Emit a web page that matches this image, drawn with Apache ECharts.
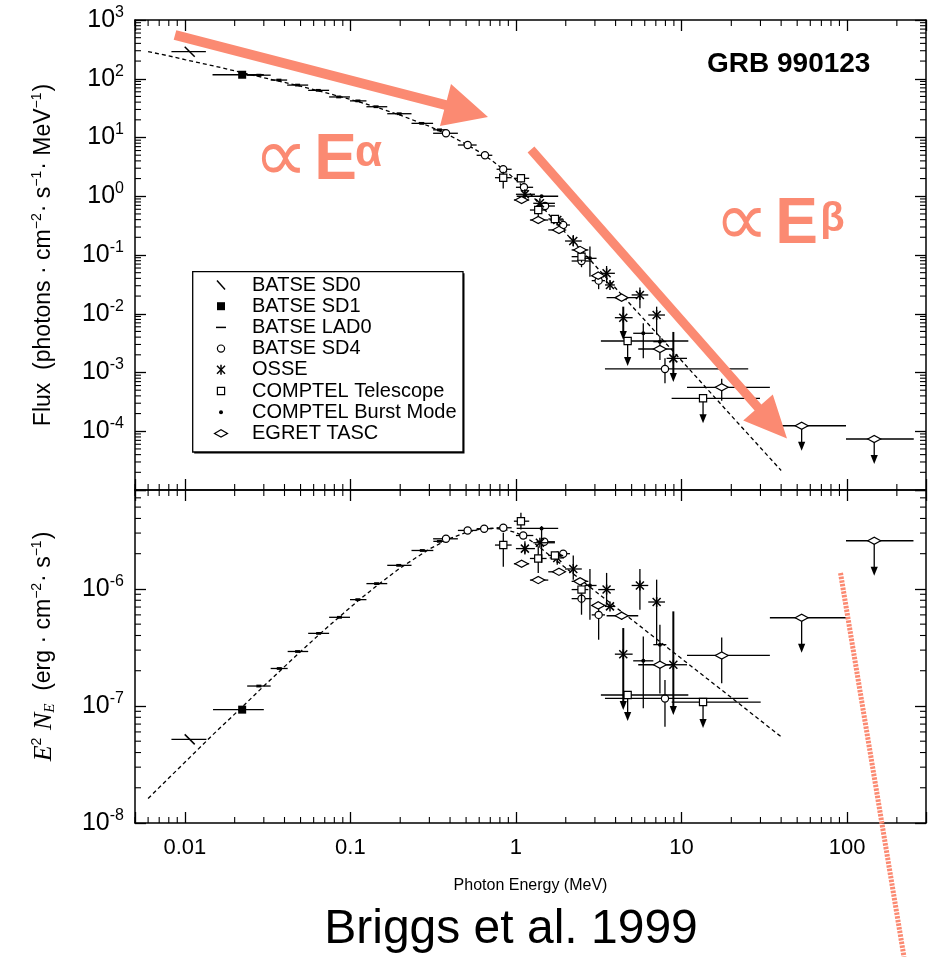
<!DOCTYPE html>
<html>
<head>
<meta charset="utf-8">
<title>GRB 990123 spectrum</title>
<script src="https://cdn.jsdelivr.net/npm/echarts@6/dist/echarts.min.js"></script>
<style>
  html, body { margin: 0; padding: 0; background: #fff; }
  #chart { width: 937px; height: 957px; }
</style>
</head>
<body>
<div id="chart"></div>
<script>
// ---------------------------------------------------------------
// Data. Each row: [E, E low, E high, value, value low, value high, flag]
// flag 1 = lower error bar ends in an arrow, flag 2 = upper limit
// Energies in MeV; top panel flux in photons/cm2/s/MeV,
// bottom panel E^2 N_E in erg/cm2/s.
// ---------------------------------------------------------------
const instruments = ['BATSE SD0', 'BATSE SD1', 'BATSE LAD0', 'BATSE SD4', 'OSSE',
  'COMPTEL Telescope', 'COMPTEL Burst Mode', 'EGRET TASC'];

const energyTicks = [0.01, 0.1, 1, 10, 100];
const fluxTicks = [1e-4, 1e-3, 1e-2, 1e-1, 1, 10, 100, 1000];
const sedTicks = [1e-8, 1e-7, 1e-6];

// ---- top panel: photon flux ----
const fluxSD0 = [[0.0107, 0.0083, 0.0134, 289]];
const fluxSD1 = [[0.0222, 0.0147, 0.0300, 117]];
const fluxLAD0 = [
  [0.028, 0.0237, 0.033, 115], [0.037, 0.033, 0.0415, 95], [0.048, 0.0415, 0.0556, 78],
  [0.064, 0.0556, 0.0744, 63.5], [0.085, 0.0744, 0.0994, 49], [0.111, 0.0994, 0.125, 42],
  [0.143, 0.125, 0.167, 33.4], [0.197, 0.167, 0.234, 25.4], [0.27, 0.234, 0.316, 17.4],
  [0.345, 0.316, 0.375, 13.5]
];
const fluxSD4 = [
  [0.378, 0.316, 0.446, 11.8], [0.511, 0.446, 0.579, 7.45], [0.65, 0.579, 0.72, 4.98],
  [0.838, 0.764, 0.942, 2.88], [1.118, 1.0, 1.27, 1.42], [1.50, 1.33, 1.72, 0.682],
  [1.93, 1.76, 2.12, 0.324], [2.49, 2.17, 2.87, 0.079, 0.062, 0.094],
  [3.16, 2.87, 3.45, 0.0366, 0.0262, 0.0488], [7.95, 3.45, 25.3, 0.00115, 0.000654, 0.00174]
];
const fluxOSSE = [
  [1.133, 1.0, 1.303, 1.08, 0.95, 1.25], [1.396, 1.273, 1.72, 0.758],
  [1.777, 1.6, 1.95, 0.394, 0.33, 0.46], [2.22, 1.98, 2.5, 0.173, 0.139, 0.219],
  [3.53, 3.14, 3.96, 0.0488, 0.033, 0.065], [3.70, 3.45, 3.96, 0.0309],
  [4.45, 3.96, 5.07, 0.00857, 0.00357, 0.0132, 1], [5.61, 5.0, 6.3, 0.0209, 0.0124, 0.028],
  [7.08, 6.3, 7.95, 0.00952, 0.0044, 0.0132], [8.93, 8.13, 10.8, 0.00174, 0.00069, 0.0049, 1]
];
const fluxCOMPTEL = [
  [0.838, 0.747, 0.942, 2.07, 1.36, 2.62], [1.072, 0.972, 1.203, 2.02, 1.72, 2.39],
  [1.364, 1.215, 1.532, 0.583, 0.45, 0.73], [1.72, 1.57, 1.93, 0.41],
  [2.49, 2.17, 2.74, 0.0937, 0.075, 0.12],
  [4.73, 3.26, 11.0, 0.00344, null, null, 2], [13.5, 8.72, 29.8, 0.000364, null, null, 2]
];
const fluxBurst = [
  [1.429, 1.01, 1.80, 1.0], [2.80, 2.6, 3.07, 0.0878, 0.0428, 0.139],
  [5.88, 5.11, 6.76, 0.00465, 0.00174, 0.00687], [7.41, 6.76, 8.1, 0.00335]
];
const fluxEGRET = [
  [1.082, 0.972, 1.203, 0.863], [1.364, 1.215, 1.568, 0.394], [1.82, 1.568, 1.98, 0.267],
  [2.44, 2.17, 2.74, 0.122], [3.14, 2.87, 3.53, 0.0445], [4.35, 3.53, 5.48, 0.0188],
  [7.41, 5.48, 8.93, 0.00251, 0.00163, 0.0042], [17.5, 10.8, 34.2, 0.00056, 0.00033, 0.00078],
  [53.2, 34.2, 98.6, 0.000124, null, null, 2], [146, 98.6, 253, 0.0000738, null, null, 2]
];
// Band-function fit drawn dashed
const modelFlux = [
  [0.006, 290], [0.008, 245], [0.01, 212], [0.015, 165], [0.0222, 127], [0.03, 104],
  [0.048, 77], [0.07, 58.5], [0.111, 41], [0.15, 31.5], [0.2, 24], [0.3, 15.5],
  [0.4, 10.7], [0.5, 7.7], [0.6, 5.7], [0.72, 4.0], [0.85, 2.8], [1.0, 1.9], [1.15, 1.3],
  [1.29, 0.93], [2, 0.236], [3, 0.067], [4.67, 0.0169], [10, 0.0016], [20, 0.000184],
  [40, 0.0000215]
];

// ---- bottom panel: E^2 N_E ----
const sedSD0 = [[0.0107, 0.0083, 0.0135, 5.18e-8]];
const sedSD1 = [[0.0222, 0.0148, 0.030, 9.3e-8]];
const sedLAD0 = [
  [0.028, 0.0238, 0.033, 1.48e-7], [0.0372, 0.033, 0.0418, 2.09e-7], [0.048, 0.0418, 0.0556, 2.92e-7],
  [0.0643, 0.0556, 0.0744, 4.17e-7], [0.0859, 0.0744, 0.0995, 5.72e-7], [0.111, 0.0995, 0.125, 8.1e-7],
  [0.144, 0.125, 0.167, 1.11e-6], [0.196, 0.167, 0.234, 1.59e-6], [0.272, 0.234, 0.317, 2.13e-6],
  [0.345, 0.317, 0.375, 2.55e-6]
];
const sedSD4 = [
  [0.378, 0.316, 0.446, 2.68e-6], [0.511, 0.446, 0.579, 3.16e-6], [0.643, 0.579, 0.72, 3.27e-6],
  [0.839, 0.764, 0.942, 3.33e-6], [1.107, 1.0, 1.273, 2.86e-6], [1.483, 1.333, 1.72, 2.53e-6],
  [1.93, 1.76, 2.12, 2.0e-6], [2.49, 2.17, 2.87, 8.26e-7, 6.02e-7, 9.87e-7],
  [3.16, 2.87, 3.45, 6.0e-7, 3.68e-7, 7.09e-7], [7.95, 3.45, 25.3, 1.16e-7, 6.65e-8, 1.67e-7]
];
const sedOSSE = [
  [1.133, 1.0, 1.303, 2.21e-6, 1.97e-6, 2.56e-6], [1.396, 1.273, 1.72, 2.48e-6],
  [1.777, 1.6, 1.95, 1.84e-6, 1.61e-6, 2.1e-6], [2.22, 1.98, 2.5, 1.48e-6, 1.2e-6, 1.93e-6],
  [3.53, 3.14, 3.96, 9.87e-7, 7.33e-7, 1.37e-6], [3.70, 3.45, 3.96, 7.09e-7],
  [4.45, 3.96, 5.07, 2.77e-7, 9.25e-8, 4.63e-7, 1], [5.61, 5.0, 6.3, 1.07e-6, 6.64e-7, 1.48e-6],
  [7.08, 6.3, 7.95, 7.73e-7, 3.34e-7, 1.2e-6], [8.93, 8.13, 10.8, 2.25e-7, 8.38e-8, 6.43e-7, 1]
];
const sedCOMPTEL = [
  [0.839, 0.747, 0.942, 2.37e-6, 1.55e-6, 3.02e-6], [1.072, 0.972, 1.203, 3.79e-6, 3.22e-6, 4.48e-6],
  [1.364, 1.215, 1.532, 1.82e-6, 1.37e-6, 2.32e-6], [1.72, 1.57, 1.93, 1.93e-6],
  [2.49, 2.17, 2.74, 9.87e-7, 7.5e-7, 1.24e-6],
  [4.73, 3.26, 11.0, 1.24e-7, null, null, 2], [13.5, 8.72, 30.1, 1.08e-7, null, null, 2]
];
const sedBurst = [
  [1.429, 1.01, 1.80, 3.29e-6, 1.67e-6, 3.44e-6], [2.80, 2.6, 3.07, 1.07e-6, 5.45e-7, 1.48e-6],
  [5.88, 5.11, 6.76, 2.43e-7, 9.56e-8, 3.93e-7], [7.41, 6.76, 8.1, 3.34e-7]
];
const sedEGRET = [
  [1.082, 0.972, 1.203, 1.64e-6], [1.364, 1.215, 1.568, 1.19e-6], [1.82, 1.568, 1.98, 1.40e-6],
  [2.44, 2.17, 2.74, 1.16e-6], [3.14, 2.87, 3.53, 7.23e-7], [4.35, 3.53, 5.48, 5.9e-7, 5.45e-7, 6.43e-7],
  [7.41, 5.48, 8.93, 2.25e-7, 1.28e-7, 4.95e-7], [17.5, 10.8, 34.2, 2.70e-7, 1.56e-7, 3.85e-7],
  [53.2, 34.2, 99.6, 5.67e-7, null, null, 2], [146, 98.6, 252, 2.58e-6, null, null, 2]
];
const modelSED = [
  [0.006, 1.62e-8], [0.008, 2.42e-8], [0.01, 3.3e-8], [0.015, 5.8e-8], [0.0222, 9.8e-8],
  [0.03, 1.48e-7], [0.048, 2.76e-7], [0.07, 4.5e-7], [0.111, 7.9e-7], [0.15, 1.11e-6],
  [0.2, 1.51e-6], [0.3, 2.19e-6], [0.4, 2.7e-6], [0.5, 3.04e-6], [0.6, 3.23e-6], [0.72, 3.3e-6],
  [0.85, 3.23e-6], [1.0, 3.03e-6], [1.15, 2.75e-6], [1.29, 2.46e-6], [2, 1.51e-6], [3, 9.6e-7],
  [4.67, 5.9e-7], [10, 2.54e-7], [20, 1.18e-7], [40, 5.45e-8]
];

// ---------------------------------------------------------------
const SANS = '"Liberation Sans", Arial, Helvetica, sans-serif';
const SERIF = '"Liberation Serif", "Times New Roman", serif';
const SALMON = '#fb8a72';
const markerKinds = ['sd0', 'sd1', 'lad', 'sd4', 'osse', 'comptel', 'burst', 'egret'];

function rows(list) {
  return list.map(r => [r[0], r[1], r[2], r[3],
    r[4] == null ? r[3] : r[4], r[5] == null ? r[3] : r[5], r[6] || 0]);
}

// plotting symbols for each instrument
function markerShapes(kind, x, y) {
  const open = { stroke: '#000', lineWidth: 1.2, fill: '#fff' };
  const ink = { stroke: '#000', lineWidth: 1.5 };
  switch (kind) {
    case 'sd0':
      return [{ type: 'line', shape: { x1: x - 5, y1: y - 5, x2: x + 5, y2: y + 5 }, style: ink }];
    case 'sd1':
      return [{ type: 'rect', shape: { x: x - 4, y: y - 4, width: 8, height: 8 }, style: { fill: '#000' } }];
    case 'lad':
      return [{ type: 'rect', shape: { x: x - 2.5, y: y - 1.4, width: 5, height: 2.8 }, style: { fill: '#000' } }];
    case 'sd4':
      return [{ type: 'circle', shape: { cx: x, cy: y, r: 3.6 }, style: open }];
    case 'osse':
      return [
        { type: 'line', shape: { x1: x, y1: y - 5, x2: x, y2: y + 5 }, style: ink },
        { type: 'line', shape: { x1: x - 4, y1: y - 4, x2: x + 4, y2: y + 4 }, style: ink },
        { type: 'line', shape: { x1: x - 4, y1: y + 4, x2: x + 4, y2: y - 4 }, style: ink }
      ];
    case 'comptel':
      return [{ type: 'rect', shape: { x: x - 3.6, y: y - 3.6, width: 7.2, height: 7.2 }, style: open }];
    case 'burst':
      return [{ type: 'circle', shape: { cx: x, cy: y, r: 2 }, style: { fill: '#000' } }];
    case 'egret':
      return [{ type: 'polygon', shape: { points: [[x - 6.5, y], [x, y - 3.6], [x + 6.5, y], [x, y + 3.6]] }, style: open }];
  }
  return [];
}

function pointRenderer(kind, ulLen) {
  return function (params, api) {
    const E = api.value(0), El = api.value(1), Eh = api.value(2);
    const V = api.value(3), Vl = api.value(4), Vh = api.value(5), flag = api.value(6);
    const c = api.coord([E, V]);
    const xl = api.coord([El, V])[0], xh = api.coord([Eh, V])[0];
    const ln = { stroke: '#000', lineWidth: 1.3 };
    const kids = [{ type: 'line', shape: { x1: xl, y1: c[1], x2: xh, y2: c[1] }, style: ln }];
    const head = tip => ({ type: 'polygon', shape: { points: [[c[0] - 3.6, tip - 9], [c[0] + 3.6, tip - 9], [c[0], tip]] }, style: { fill: '#000' } });
    if (flag === 2) {
      const tip = c[1] + ulLen;
      kids.push({ type: 'line', shape: { x1: c[0], y1: c[1], x2: c[0], y2: tip - 8 }, style: ln });
      kids.push(head(tip));
    } else {
      const lo = api.coord([E, Vl])[1], hi = api.coord([E, Vh])[1];
      if (lo - hi > 0.5) {
        kids.push({ type: 'line', shape: { x1: c[0], y1: hi, x2: c[0], y2: flag === 1 ? lo - 8 : lo },
          style: flag === 1 ? { stroke: '#000', lineWidth: 2 } : ln });
      }
      if (flag === 1) kids.push(head(lo));
    }
    kids.push(...markerShapes(kind, c[0], c[1]));
    return { type: 'group', children: kids };
  };
}

function pointSeries(name, kind, list, xIdx, yIdx, ulLen) {
  return {
    type: 'custom', name: name, coordinateSystem: 'cartesian2d',
    xAxisIndex: xIdx, yAxisIndex: yIdx, z: 5, silent: true,
    dimensions: ['E', 'Elo', 'Ehi', 'V', 'Vlo', 'Vhi', 'flag'],
    encode: { x: 0, y: 3 },
    renderItem: pointRenderer(kind, ulLen),
    data: rows(list)
  };
}

function modelSeries(list, xIdx, yIdx) {
  return {
    type: 'line', name: 'Band fit', xAxisIndex: xIdx, yAxisIndex: yIdx,
    data: list, showSymbol: false, symbol: 'none', silent: true, z: 3,
    lineStyle: { color: '#000', width: 1.3, type: [4, 3] }
  };
}

// minor log ticks on all four sides of a panel
function decadeMinors(lo, hi, keep) {
  const out = [];
  for (let k = lo; k <= hi; k++) {
    for (let m = 2; m <= 9; m++) out.push(m * Math.pow(10, k));
  }
  return out.filter(keep);
}
function minorTickSeries(dir, values, xIdx, yIdx, ref, len) {
  return {
    type: 'custom', coordinateSystem: 'cartesian2d', xAxisIndex: xIdx, yAxisIndex: yIdx,
    silent: true, z: 4,
    data: values.map(v => dir === 'x' ? [v, ref] : [ref, v]),
    renderItem: function (params, api) {
      const cs = params.coordSys;
      const p = api.coord([api.value(0), api.value(1)]);
      const st = { stroke: '#000', lineWidth: 1.1 };
      if (dir === 'x') {
        const b = cs.y + cs.height;
        return { type: 'group', children: [
          { type: 'line', shape: { x1: p[0], y1: b, x2: p[0], y2: b - len }, style: st },
          { type: 'line', shape: { x1: p[0], y1: cs.y, x2: p[0], y2: cs.y + len }, style: st }
        ] };
      }
      const r = cs.x + cs.width;
      return { type: 'group', children: [
        { type: 'line', shape: { x1: cs.x, y1: p[1], x2: cs.x + len, y2: p[1] }, style: st },
        { type: 'line', shape: { x1: r, y1: p[1], x2: r - len, y2: p[1] }, style: st }
      ] };
    }
  };
}

const isTick = (v, ticks) => ticks.some(t => Math.abs(Math.log10(v) - Math.log10(t)) < 1e-6);
const expLabel = v => '{b|10}{s|' + Math.round(Math.log10(v)) + '}';

const axisLine = { show: true, onZero: false, lineStyle: { color: '#000', width: 1.5 } };
const axisTick = { show: true, inside: true, length: 11, lineStyle: { color: '#000', width: 1.3 } };

function xAxisDef(grid, pos, withLabels) {
  const a = {
    type: 'log', logBase: 10, gridIndex: grid, position: pos, min: 0.005, max: 300,
    axisLine: axisLine, axisTick: axisTick, splitLine: { show: false },
    axisLabel: { show: false }
  };
  if (withLabels) {
    a.axisLabel = {
      show: true, interval: 0, margin: 14, color: '#000', fontFamily: SANS, fontSize: 22,
      hideOverlap: false,
      formatter: v => isTick(v, energyTicks) ? String(Number(v.toPrecision(1))) : ''
    };
    a.name = 'Photon Energy (MeV)';
    a.nameLocation = 'middle';
    a.nameGap = 55;
    a.nameTextStyle = { color: '#000', fontFamily: SANS, fontSize: 16 };
  }
  return a;
}
function yAxisDef(grid, pos, min, max, ticks) {
  const a = {
    type: 'log', logBase: 10, gridIndex: grid, position: pos, min: min, max: max,
    axisLine: axisLine, axisTick: axisTick, splitLine: { show: false },
    axisLabel: { show: false }
  };
  if (ticks) {
    a.axisLabel = {
      show: true, interval: 0, margin: 11, hideOverlap: false,
      formatter: v => isTick(v, ticks) ? expLabel(v) : '',
      rich: {
        b: { fontSize: 25, fontFamily: SANS, color: '#000', verticalAlign: 'middle' },
        s: { fontSize: 16, fontFamily: SANS, color: '#000', verticalAlign: 'middle', padding: [0, 0, 15, 0] }
      }
    };
  }
  return a;
}

const topY = yAxisDef(0, 'left', 1e-5, 1e3, fluxTicks);
topY.name = '{t|Flux  (photons · cm}{s|−2}{t|· s}{s|−1}{t|· MeV}{s|−1}{t|)}';
topY.nameLocation = 'middle';
topY.nameGap = 77;
topY.nameTextStyle = {
  rich: {
    t: { fontSize: 23, fontFamily: SANS, color: '#000', verticalAlign: 'middle' },
    s: { fontSize: 14, fontFamily: SANS, color: '#000', verticalAlign: 'middle', padding: [0, 1, 14, 0] }
  }
};
const botY = yAxisDef(1, 'left', 1e-8, 7e-6, sedTicks);
botY.name = '{i|E}{s|2}{i| N}{u|E}{t|  (erg · cm}{s|−2}{t|· s}{s|−1}{t|)}';
botY.nameLocation = 'middle';
botY.nameGap = 77;
botY.nameTextStyle = {
  padding: [0, 0, 0, 20],
  rich: {
    t: { fontSize: 23, fontFamily: SANS, color: '#000', verticalAlign: 'middle' },
    i: { fontSize: 26, fontFamily: SERIF, fontStyle: 'italic', color: '#000', verticalAlign: 'middle' },
    s: { fontSize: 14, fontFamily: SANS, color: '#000', verticalAlign: 'middle', padding: [0, 1, 14, 0] },
    u: { fontSize: 15, fontFamily: SERIF, fontStyle: 'italic', color: '#000', verticalAlign: 'middle', padding: [13, 0, 0, 0] }
  }
};

const fluxSets = [fluxSD0, fluxSD1, fluxLAD0, fluxSD4, fluxOSSE, fluxCOMPTEL, fluxBurst, fluxEGRET];
const sedSets = [sedSD0, sedSD1, sedLAD0, sedSD4, sedOSSE, sedCOMPTEL, sedBurst, sedEGRET];
const sedArrow = { 'COMPTEL Telescope': 26, 'EGRET TASC': 35 };

const series = [];
series.push(modelSeries(modelFlux, 0, 0));
series.push(modelSeries(modelSED, 2, 2));
instruments.forEach((name, i) => {
  series.push(pointSeries(name, markerKinds[i], fluxSets[i], 0, 0, 25));
  series.push(pointSeries(name, markerKinds[i], sedSets[i], 2, 2, sedArrow[name] || 26));
});
const xMinors = decadeMinors(-3, 2, v => v >= 0.005 && v < 299);
series.push(minorTickSeries('x', xMinors, 0, 0, 1, 6));
series.push(minorTickSeries('x', xMinors, 2, 2, 1e-7, 6));
series.push(minorTickSeries('y', decadeMinors(-5, 2, () => true), 0, 0, 1, 6));
series.push(minorTickSeries('y', decadeMinors(-8, -6, v => v < 6.9e-6), 2, 2, 1, 6));

// ---------------------------------------------------------------
// legend box, annotations
// ---------------------------------------------------------------
const legendKids = [
  { type: 'rect', shape: { x: 194.2, y: 273.2, width: 270.3, height: 180.3 }, style: { fill: '#000' } },
  { type: 'rect', shape: { x: 192.7, y: 271.7, width: 270.3, height: 180.3 }, style: { fill: '#fff', stroke: '#000', lineWidth: 1.3 } }
];
instruments.forEach((name, i) => {
  const cy = 285 + i * 21.2;
  if (markerKinds[i] === 'lad') {
    legendKids.push({ type: 'line', shape: { x1: 216, y1: cy, x2: 226, y2: cy }, style: { stroke: '#000', lineWidth: 1.5 } });
  } else if (markerKinds[i] === 'sd0') {
    legendKids.push({ type: 'line', shape: { x1: 217, y1: cy - 4.5, x2: 225, y2: cy + 4.5 }, style: { stroke: '#000', lineWidth: 1.5 } });
  } else {
    legendKids.push(...markerShapes(markerKinds[i], 221, cy));
  }
  legendKids.push({ type: 'text', x: 252, y: cy, style: { text: name, fill: '#000', fontFamily: SANS, fontSize: 20, textAlign: 'left', textVerticalAlign: 'middle' } });
});

function arrowPolygon(pts) {
  return { type: 'polygon', z: 50, silent: true, shape: { points: pts }, style: { fill: SALMON } };
}
const PROP_FONT = '"DejaVu Sans", sans-serif';

const graphic = [
  { type: 'group', z: 20, silent: true, children: legendKids },
  { type: 'text', z: 30, x: 788.7, y: 64, style: { text: 'GRB 990123', fill: '#000', fontFamily: SANS, fontWeight: 'bold', fontSize: 28, textAlign: 'center', textVerticalAlign: 'middle' } },
  arrowPolygon([[173.7, 39.8], [444.2, 109.8], [440.0, 126.0], [488, 117], [451.0, 84.0], [446.8, 100.2], [176.3, 30.2]]),
  arrowPolygon([[527.6, 152.5], [754.6, 410.5], [743.2, 420.6], [787, 438.5], [772.8, 394.4], [761.4, 404.5], [534.4, 146.5]]),
  { type: 'text', z: 50, x: 281, y: 161, style: { text: '∝', fill: SALMON, fontFamily: PROP_FONT, fontSize: 76, textAlign: 'center', textVerticalAlign: 'middle' } },
  { type: 'text', z: 50, x: 335.5, y: 161, style: { text: 'E', fill: SALMON, fontFamily: SANS, fontWeight: 'bold', fontSize: 64, textAlign: 'center', textVerticalAlign: 'middle' } },
  { type: 'text', z: 50, x: 368.5, y: 153.5, style: { text: 'α', fill: SALMON, fontFamily: SANS, fontWeight: 'bold', fontSize: 44, textAlign: 'center', textVerticalAlign: 'middle' } },
  { type: 'text', z: 50, x: 741.7, y: 225, style: { text: '∝', fill: SALMON, fontFamily: PROP_FONT, fontSize: 76, textAlign: 'center', textVerticalAlign: 'middle' } },
  { type: 'text', z: 50, x: 796.5, y: 225.5, style: { text: 'E', fill: SALMON, fontFamily: SANS, fontWeight: 'bold', fontSize: 64, textAlign: 'center', textVerticalAlign: 'middle' } },
  { type: 'text', z: 50, x: 832.5, y: 220, style: { text: 'β', fill: SALMON, fontFamily: SANS, fontWeight: 'bold', fontSize: 40, textAlign: 'center', textVerticalAlign: 'middle' } },
  { type: 'polyline', z: 50, silent: true, shape: { points: [[840.5, 573], [904, 957]] }, style: { stroke: SALMON, lineWidth: 5, lineDash: [2.5, 1.2], fill: null } },
  { type: 'text', z: 30, x: 511, y: 930, style: { text: 'Briggs et al. 1999', fill: '#000', fontFamily: SANS, fontSize: 48, textAlign: 'center', textVerticalAlign: 'middle' } }
];

const option = {
  animation: false,
  backgroundColor: '#fff',
  grid: [
    { left: 135, top: 20, width: 791, height: 470 },
    { left: 135, top: 490, width: 791, height: 333 }
  ],
  xAxis: [
    xAxisDef(0, 'bottom', false),
    xAxisDef(0, 'top', false),
    xAxisDef(1, 'bottom', true),
    xAxisDef(1, 'top', false)
  ],
  yAxis: [
    topY,
    yAxisDef(0, 'right', 1e-5, 1e3, null),
    botY,
    yAxisDef(1, 'right', 1e-8, 7e-6, null)
  ],
  series: series,
  graphic: graphic
};

const chart = echarts.init(document.getElementById('chart'), null, { renderer: 'canvas' });
chart.setOption(option);
</script>
</body>
</html>
